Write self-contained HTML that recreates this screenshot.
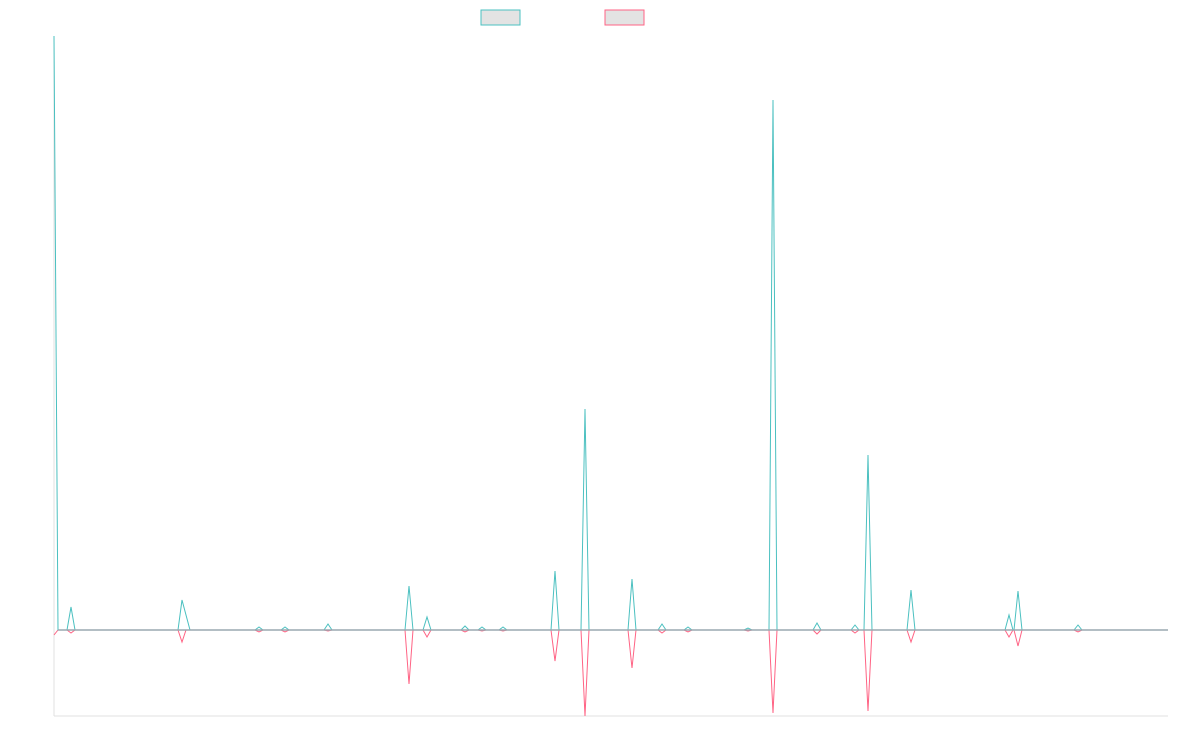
<!DOCTYPE html>
<html><head><meta charset="utf-8"><style>html,body{margin:0;padding:0;background:#fff}svg{display:block}</style></head>
<body>
<svg width="1200" height="750" viewBox="0 0 1200 750" xmlns="http://www.w3.org/2000/svg">
<rect x="481" y="10" width="39" height="15" fill="#e3e3e3" stroke="#4bc0c0" stroke-width="1"/>
<rect x="605" y="10" width="39" height="15" fill="#e3e3e3" stroke="#ff6384" stroke-width="1"/>
<line x1="54" y1="36" x2="54" y2="716" stroke="#e0e0e0" stroke-width="1"/>
<line x1="54" y1="716" x2="1168" y2="716" stroke="#e0e0e0" stroke-width="1"/>
<polyline fill="none" stroke="#ff6384" stroke-width="1" points="54,635 58,630 67,630 71,633 75,630 178,630 182,642 186,630 255,630 259,632 263,630 281,630 285,632 289,630 324,630 328,631 332,630 405,630 409,684 413,630 423,630 427,637 431,630 461,630 465,632 469,630 478,630 482,631 486,630 499,630 503,631 507,630 551,630 555,661 559,630 581,630 585,716 589,630 628,630 632,668 636,630 658,630 662,633 666,630 684,630 688,632 692,630 744,630 748,631 752,630 769,630 773,713 777,630 813,630 817,634 821,630 851,630 855,633 859,630 864,630 868,711 872,630 907,630 911,642 915,630 1005,630 1009,637 1013,630 1014,630 1018,646 1022,630 1074,630 1078,632 1082,630 1168,630"/>
<polyline fill="none" stroke="#4bc0c0" stroke-width="1" points="54,36 58,630 67,630 71,607 75,630 178,630 182,600 190,630 255,630 259,627 263,630 281,630 285,627 289,630 324,630 328,624 332,630 405,630 409,586 413,630 423,630 427,617 431,630 461,630 465,626 469,630 478,630 482,627 486,630 499,630 503,627 507,630 551,630 555,571 559,630 581,630 585,409 589,630 628,630 632,579 636,630 658,630 662,624 666,630 684,630 688,627 692,630 744,630 748,628 752,630 769,630 773,100 777,630 813,630 817,623 821,630 851,630 855,625 859,630 864,630 868,455 872,630 907,630 911,590 915,630 1005,630 1009,615 1013,630 1014,630 1018,591 1022,630 1074,630 1078,625 1082,630 1168,630"/>
<line x1="58" y1="630" x2="1168" y2="630" stroke="#9aa8b0" stroke-width="1.5"/>
</svg>
</body></html>
